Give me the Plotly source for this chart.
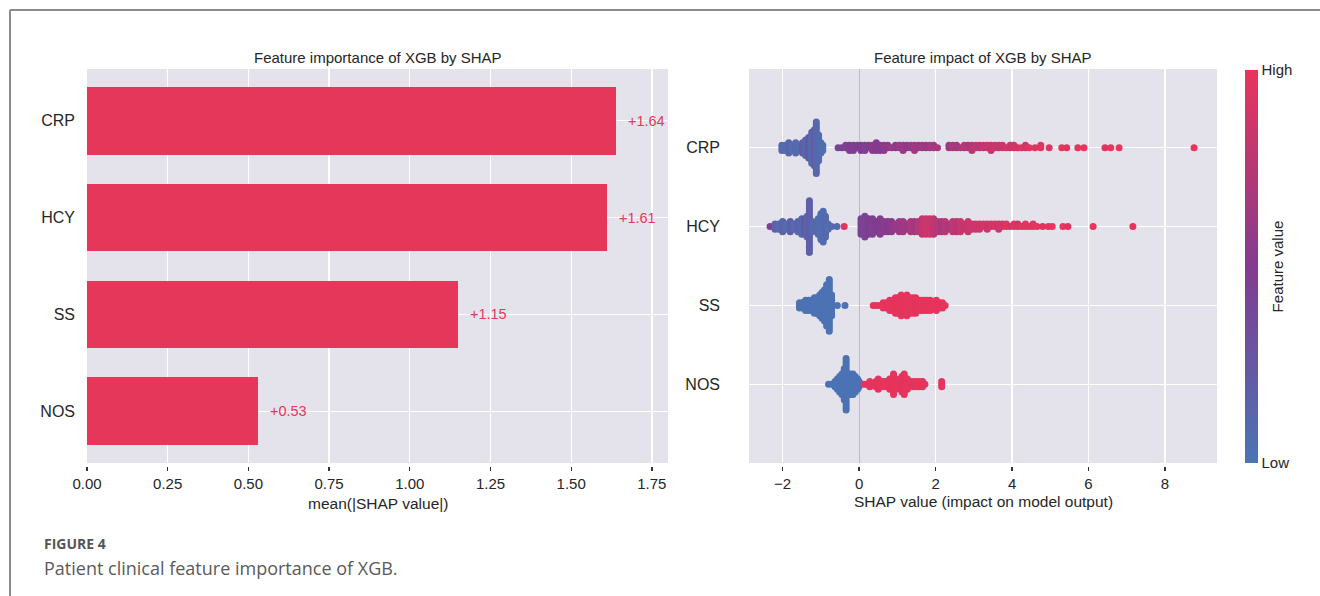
import math
import plotly.graph_objects as go

# ---------------- data ----------------
features = ["NOS", "SS", "HCY", "CRP"]          # bottom -> top
importance = [0.53, 1.15, 1.61, 1.64]
importance_text = ["+0.53", "+1.15", "+1.61", "+1.64"]
bar_ticks = [0.0, 0.25, 0.5, 0.75, 1.0, 1.25, 1.5, 1.75]
bar_tick_text = ["0.00", "0.25", "0.50", "0.75", "1.00", "1.25", "1.50", "1.75"]
shap_ticks = [-2, 0, 2, 4, 6, 8]
shap_tick_text = ["\u22122", "0", "2", "4", "6", "8"]

# beeswarm: SHAP value of each stack, number of points in it, feature value (0 low .. 1 high)
CRP_x = [-2.02, -1.93, -1.84, -1.75, -1.66, -1.57, -1.48, -1.40, -1.32, -1.24, -1.17, -1.12, -1.06, -1.00, -0.95,
         -0.55, -0.45, -0.35, -0.25, -0.15, -0.05, 0.05, 0.15, 0.25, 0.35, 0.45, 0.55, 0.65, 0.75, 0.85, 0.95,
         1.05, 1.15, 1.25, 1.35, 1.45, 1.55, 1.65, 1.75, 1.85, 1.95, 2.05,
         2.35, 2.45, 2.55, 2.65, 2.75, 2.85, 2.95, 3.05, 3.15, 3.25, 3.35, 3.45, 3.55, 3.65, 3.75, 3.85, 3.95,
         4.05, 4.15, 4.25, 4.35, 4.45, 4.60, 4.75,
         4.97, 5.30, 5.43, 5.72, 5.88, 6.43, 6.58, 6.80, 8.76]
CRP_n = [3, 3, 5, 3, 5, 3, 5, 7, 9, 13, 15, 21, 11, 5, 3,
         1, 1, 2, 3, 3, 2, 3, 3, 2, 3, 4, 3, 3, 2, 1, 2,
         2, 3, 2, 2, 3, 2, 2, 2, 2, 2, 1,
         2, 2, 2, 1, 2, 2, 3, 2, 2, 2, 2, 3, 2, 2, 2, 1, 2,
         2, 1, 1, 2, 1, 1, 2,
         1, 1, 1, 1, 1, 1, 1, 1, 1]
CRP_c = [0.10, 0.05, 0.15, 0.05, 0.10, 0.08, 0.20, 0.10, 0.25, 0.08, 0.20, 0.12, 0.10, 0.05, 0.05,
         0.40, 0.45, 0.45, 0.50, 0.45, 0.50, 0.50, 0.45, 0.50, 0.55, 0.50, 0.50, 0.55, 0.55, 0.60, 0.55,
         0.60, 0.60, 0.55, 0.60, 0.65, 0.60, 0.65, 0.60, 0.65, 0.65, 0.70,
         0.60, 0.70, 0.65, 0.70, 0.75, 0.70, 0.75, 0.80, 0.75, 0.80, 0.85, 0.80, 0.85, 0.80, 0.85, 0.90, 0.85,
         0.90, 0.90, 0.95, 0.90, 0.95, 0.95, 0.95,
         0.95, 1.00, 0.95, 1.00, 1.00, 0.95, 1.00, 1.00, 1.00]

HCY_x = [-2.33, -2.20, -2.10, -2.00, -1.90, -1.80, -1.70, -1.60, -1.50, -1.42, -1.36, -1.30, -1.22, -1.14,
         -1.07, -1.00, -0.94, -0.88, -0.81, -0.72, -0.58, -0.39,
         0.05, 0.15, 0.25, 0.35, 0.45, 0.55, 0.65, 0.75, 0.85, 0.95, 1.05, 1.15, 1.25, 1.35, 1.45, 1.55,
         1.65, 1.75, 1.85, 1.95, 2.05, 2.15, 2.25, 2.35, 2.45, 2.55, 2.65, 2.75, 2.85, 2.95, 3.05,
         3.15, 3.25, 3.35, 3.45, 3.55, 3.65, 3.75, 3.85, 3.95, 4.05, 4.15, 4.25, 4.35, 4.45, 4.55, 4.65,
         4.80, 4.95, 5.05, 5.33, 5.46, 6.12, 7.16]
HCY_n = [1, 3, 3, 5, 3, 5, 3, 5, 7, 7, 9, 21, 5, 3,
         7, 11, 13, 9, 3, 1, 1, 1,
         7, 9, 7, 7, 5, 7, 5, 5, 5, 3, 5, 5, 3, 5, 5, 5,
         7, 7, 7, 7, 5, 5, 5, 3, 5, 5, 5, 3, 5, 3, 3,
         3, 2, 3, 2, 2, 3, 2, 2, 1, 2, 2, 1, 2, 1, 2, 1,
         1, 1, 1, 1, 1, 1, 1]
HCY_c = [0.45, 0.15, 0.08, 0.15, 0.05, 0.20, 0.08, 0.15, 0.10, 0.25, 0.12, 0.18, 0.08, 0.10,
         0.08, 0.05, 0.06, 0.10, 0.05, 0.10, 0.10, 0.95,
         0.45, 0.42, 0.50, 0.45, 0.50, 0.48, 0.55, 0.50, 0.55, 0.60, 0.60, 0.65, 0.60, 0.70, 0.65, 0.75,
         0.80, 0.85, 0.85, 0.80, 0.75, 0.70, 0.75, 0.70, 0.80, 0.75, 0.85, 0.80, 0.85, 0.85, 0.85,
         0.85, 0.90, 0.85, 0.90, 0.90, 0.85, 0.90, 0.95, 0.90, 0.95, 0.90, 0.95, 0.95, 0.95, 0.95, 1.00,
         0.95, 0.95, 1.00, 1.00, 0.95, 1.00, 1.00]

SS_x = [-1.56, -1.48, -1.40, -1.32, -1.24, -1.17, -1.10, -1.03, -0.97, -0.91, -0.85, -0.78, -0.72, -0.57, -0.37,
        0.37, 0.45, 0.55, 0.63, 0.72, 0.80, 0.88, 0.95, 1.02, 1.10, 1.17, 1.25, 1.32, 1.40, 1.48, 1.55,
        1.63, 1.70, 1.78, 1.86, 1.94, 2.02, 2.10, 2.18, 2.25]
SS_n = [3, 3, 5, 5, 5, 7, 7, 9, 11, 13, 17, 21, 9, 1, 1,
        1, 1, 1, 3, 3, 5, 5, 7, 7, 9, 7, 9, 7, 7, 7, 5,
        5, 5, 5, 5, 3, 5, 3, 3, 1]
SS_c = [0.02, 0.01, 0.02, 0.01, 0.02, 0.01, 0.02, 0.01, 0.02, 0.01, 0.02, 0.01, 0.02, 0.01, 0.02,
        0.97, 0.98, 0.97, 0.98, 0.97, 0.98, 0.99, 0.97, 0.98, 0.99, 0.97, 0.98, 0.99, 0.98, 0.97, 0.98,
        0.99, 0.98, 0.97, 0.98, 0.99, 0.98, 0.97, 0.98, 0.99]

NOS_x = [-0.80, -0.72, -0.63, -0.57, -0.51, -0.45, -0.39, -0.34, -0.28, -0.22, -0.16, -0.10, -0.04, 0.00,
         0.13, 0.20, 0.28, 0.36, 0.44, 0.50, 0.58, 0.66, 0.72, 0.80, 0.90, 0.97, 1.04, 1.12, 1.18, 1.26,
         1.34, 1.42, 1.50, 1.58, 1.66, 1.72, 2.16]
NOS_n = [1, 1, 3, 5, 7, 9, 13, 21, 9, 9, 9, 7, 5, 3,
         1, 1, 3, 1, 3, 5, 3, 3, 3, 5, 9, 5, 3, 7, 9, 5,
         3, 3, 3, 3, 3, 1, 3]
NOS_c = [0.02, 0.01, 0.02, 0.01, 0.02, 0.01, 0.02, 0.01, 0.02, 0.01, 0.02, 0.01, 0.02, 0.01,
         0.98, 0.97, 0.98, 0.99, 0.98, 0.97, 0.98, 0.99, 0.98, 0.97, 0.98, 0.99, 0.98, 0.97, 0.98, 0.99,
         0.98, 0.97, 0.98, 0.99, 0.98, 0.97, 0.98]

swarm_data = {"NOS": (NOS_x, NOS_n, NOS_c), "SS": (SS_x, SS_n, SS_c),
              "HCY": (HCY_x, HCY_n, HCY_c), "CRP": (CRP_x, CRP_n, CRP_c)}

# ---------------- layout geometry (pixels) ----------------
W, H = 1320, 596
def px(x): return x / W
def py(y): return 1 - y / H

BAR_COLOR = "#e4375a"
BG = "#e4e3eb"
TXT = "#262626"
FONT = "Liberation Sans, Arial, sans-serif"
colorscale = [[0.0, "#4a74b5"], [0.5, "#833b90"], [1.0, "#ea345b"]]

fig = go.Figure()

# left: bar chart
fig.add_trace(go.Bar(
    x=importance, y=list(range(len(features))), orientation="h",
    marker=dict(color=BAR_COLOR, line=dict(width=0)), width=0.7,
    xaxis="x", yaxis="y", showlegend=False, hoverinfo="skip"))

# right: beeswarm
row_height = 0.4
sx, sy, sc = [], [], []
for row, feat in enumerate(features):
    xs, ns, cs = swarm_data[feat]
    maxlayer = max(math.ceil((n - 1) / 2) for n in ns)
    unit = 0.9 * row_height / (maxlayer + 1)
    for x, n, c in zip(xs, ns, cs):
        for k in range(n):
            off = math.ceil(k / 2) * (1 if k % 2 else -1)
            sx.append(x)
            sy.append(row + off * unit)
            sc.append(c)

fig.add_trace(go.Scatter(
    x=sx, y=sy, mode="markers", xaxis="x2", yaxis="y2", showlegend=False, hoverinfo="skip",
    marker=dict(size=7, color=sc, cmin=0, cmax=1, colorscale=colorscale, line=dict(width=0),
                showscale=True,
                colorbar=dict(x=px(1245), xanchor="left", y=py(70), yanchor="top",
                              len=(463 - 70) / H, lenmode="fraction", thickness=13,
                              xpad=0, ypad=0,
                              outlinewidth=0, tickvals=[0, 1], ticktext=["Low", "High"],
                              ticks="", tickfont=dict(size=15, color=TXT, family=FONT),
                              title=dict(text="Feature value", side="right",
                                         font=dict(size=15, color=TXT, family=FONT))))))

ydom = [py(463), py(69)]
axis_common = dict(showline=False, gridcolor="white", gridwidth=1.3, zeroline=False,
                   tickfont=dict(size=15, color=TXT, family=FONT), automargin=False)

fig.update_layout(
    width=W, height=H, margin=dict(l=0, r=0, t=0, b=0),
    paper_bgcolor="white", plot_bgcolor=BG, font=dict(family=FONT, color=TXT),
    bargap=0,
    xaxis=dict(domain=[px(87), px(668)], range=[0, 1.80], tickvals=bar_ticks, ticktext=bar_tick_text,
               ticks="outside", ticklen=4, tickwidth=1.3, tickcolor="#333333",
               anchor="free", position=py(466), **axis_common),
    yaxis=dict(domain=ydom, range=[-0.535, 3.535], tickvals=list(range(len(features))), ticktext=features,
               ticks="", ticklabelstandoff=11, anchor="x",
               **{**axis_common, "tickfont": dict(size=16, color=TXT, family=FONT)}),
    xaxis2=dict(domain=[px(749), px(1217)], range=[-2.88, 9.36], tickvals=shap_ticks, ticktext=shap_tick_text,
                ticks="outside", ticklen=4, tickwidth=1.3, tickcolor="#333333",
                anchor="free", position=py(466),
                **{**axis_common, "zeroline": True, "zerolinecolor": "#bdbdc3", "zerolinewidth": 1}),
    yaxis2=dict(domain=ydom, range=[-1, 4], tickvals=list(range(len(features))), ticktext=features,
                ticks="", ticklabelstandoff=28, anchor="x2",
                **{**axis_common, "tickfont": dict(size=16, color=TXT, family=FONT)}),
)

# bar value labels
for i, (v, t) in enumerate(zip(importance, importance_text)):
    fig.add_annotation(x=v, y=i, xref="x", yref="y", text=t, showarrow=False, xanchor="left",
                       xshift=10, font=dict(size=14.5, color=BAR_COLOR, family=FONT))

ann = [
    (px(377.5), py(57), "Feature importance of XGB by SHAP", 15),
    (px(983), py(57), "Feature impact of XGB by SHAP", 15),
    (px(377.5), py(503), "mean(|SHAP value|)", 15.5),
    (px(983), py(502), "SHAP value (impact on model output)", 15.5),
]
for x, y, t, s in ann:
    fig.add_annotation(x=x, y=y, xref="paper", yref="paper", text=t, showarrow=False,
                       xanchor="center", yanchor="middle", font=dict(size=s, color=TXT, family=FONT))

# caption
fig.add_annotation(x=px(42), y=py(543), xref="paper", yref="paper", text="<b>FIGURE 4</b>", showarrow=False,
                   xanchor="left", yanchor="middle", font=dict(size=14, color="#555555", family="Open Sans"))
fig.add_annotation(x=px(42), y=py(568), xref="paper", yref="paper",
                   text="Patient clinical feature importance of XGB.", showarrow=False,
                   xanchor="left", yanchor="middle", font=dict(size=18, color="#5a5a5a", family="Open Sans"))

# frame
fig.add_shape(type="line", xref="paper", yref="paper", x0=px(10), x1=1.0, y0=py(10), y1=py(10),
              line=dict(color="#8c8c8c", width=2))
fig.add_shape(type="line", xref="paper", yref="paper", x0=px(10), x1=px(10), y0=py(10), y1=0.0,
              line=dict(color="#8c8c8c", width=2))

fig.write_html("out.html", config={"displayModeBar": False, "staticPlot": True},
               post_script="document.body.style.margin='0px';document.body.style.overflow='hidden';")
